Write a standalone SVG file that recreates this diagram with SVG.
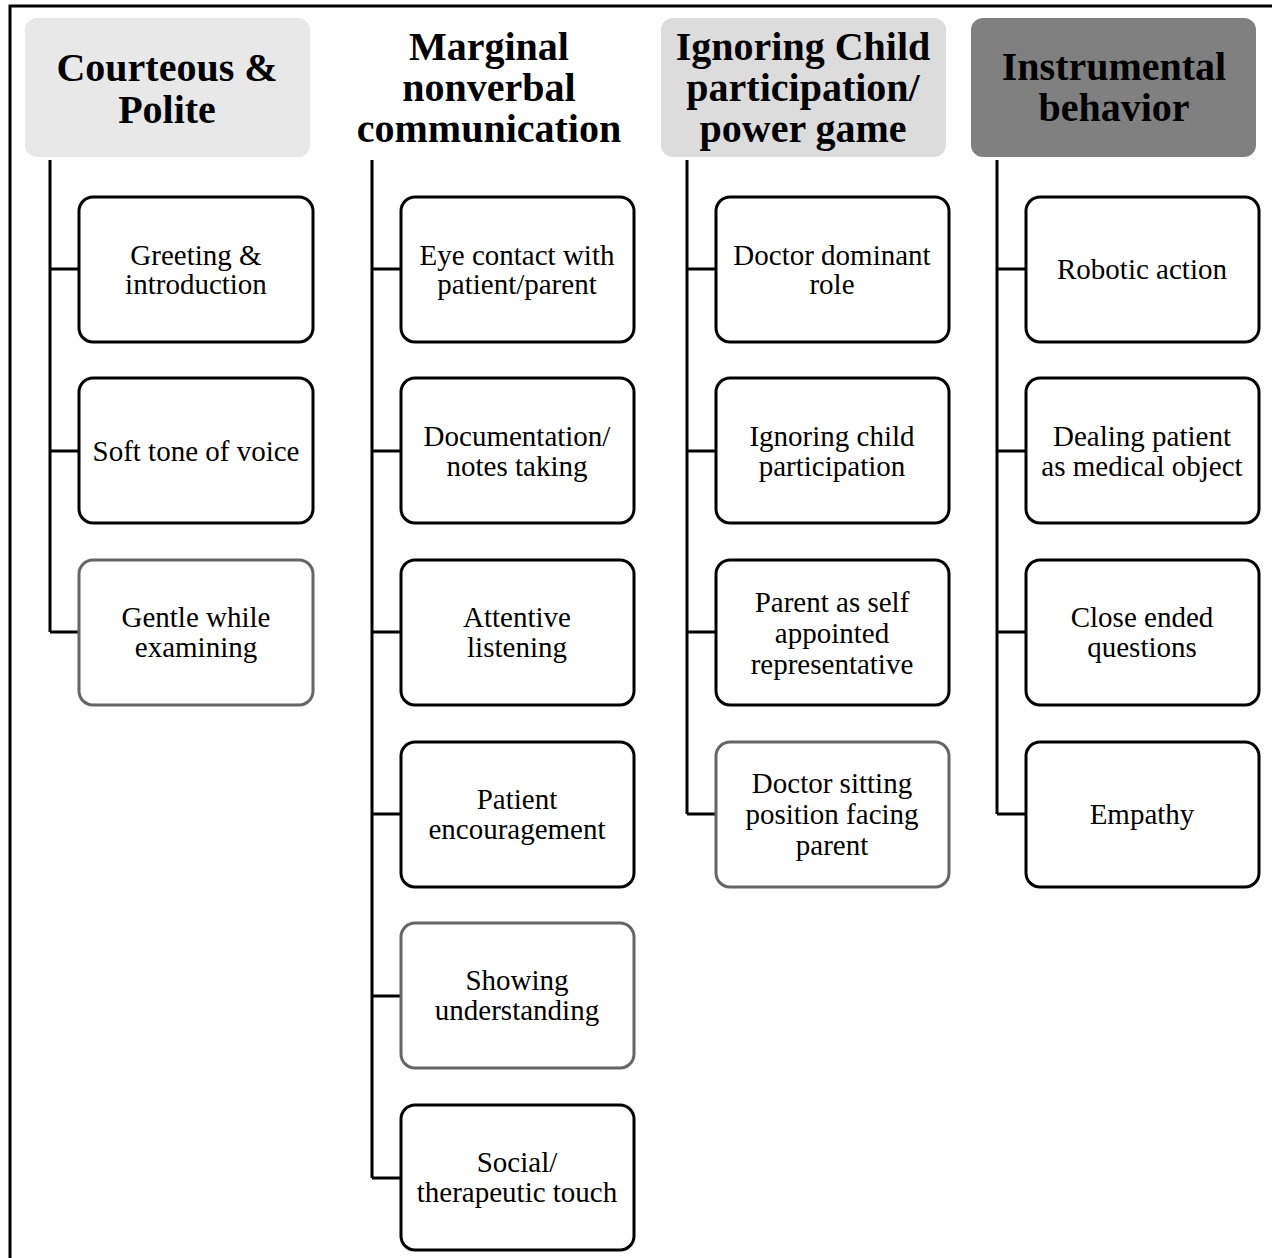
<svg xmlns="http://www.w3.org/2000/svg" width="1272" height="1258" viewBox="0 0 1272 1258">
<style>
.hd{font-family:"Liberation Serif","Times New Roman",serif;font-weight:bold;font-size:40px;text-anchor:middle;fill:#000}
.tx{font-family:"Liberation Serif","Times New Roman",serif;font-size:29px;text-anchor:middle;fill:#000}
.bx{fill:#fff;stroke:#000;stroke-width:3}
.bg{fill:#fff;stroke:#666;stroke-width:3}
.ln{fill:none;stroke:#000;stroke-width:3}
</style>
<rect x="0" y="0" width="1272" height="1258" fill="#fff"/>
<path d="M10,1258 V6 H1272" fill="none" stroke="#000" stroke-width="3"/>
<g id="connectors">
<path class="ln" d="M50,160 V632 M50,269 H79 M50,451 H79 M50,632 H79"/>
<path class="ln" d="M372,160 V1178 M372,269 H401 M372,451 H401 M372,632 H401 M372,814 H401 M372,996 H401 M372,1178 H401"/>
<path class="ln" d="M687,160 V814 M687,269 H716 M687,451 H716 M687,632 H716 M687,814 H716"/>
<path class="ln" d="M997,160 V814 M997,269 H1026 M997,451 H1026 M997,632 H1026 M997,814 H1026"/>
</g>
<g id="h1"><rect x="25" y="18" width="285" height="139" rx="12" fill="#e8e8e8"/><text class="hd" x="167" y="81">Courteous &amp;</text><text class="hd" x="167" y="123">Polite</text></g>
<g id="h2"><text class="hd" x="489" y="60">Marginal</text><text class="hd" x="489" y="101">nonverbal</text><text class="hd" x="489" y="142">communication</text></g>
<g id="h3"><rect x="661" y="18" width="285" height="139" rx="12" fill="#dcdcdc"/><text class="hd" x="803" y="60">Ignoring Child</text><text class="hd" x="803" y="101">participation/</text><text class="hd" x="803" y="142">power game</text></g>
<g id="h4"><rect x="971" y="18" width="285" height="139" rx="12" fill="#808080"/><text class="hd" x="1114" y="80">Instrumental</text><text class="hd" x="1114" y="121">behavior</text></g>

<g id="n1a"><rect class="bx" x="79" y="197" width="234" height="145" rx="14"/><text class="tx" x="196" y="265">Greeting &amp;</text><text class="tx" x="196" y="294">introduction</text></g>
<g id="n1b"><rect class="bx" x="79" y="378" width="234" height="145" rx="14"/><text class="tx" x="196" y="461">Soft tone of voice</text></g>
<g id="n1c"><rect class="bg" x="79" y="560" width="234" height="145" rx="14"/><text class="tx" x="196" y="627">Gentle while</text><text class="tx" x="196" y="657">examining</text></g>

<g id="n2a"><rect class="bx" x="401" y="197" width="233" height="145" rx="14"/><text class="tx" x="517" y="265">Eye contact with</text><text class="tx" x="517" y="294">patient/parent</text></g>
<g id="n2b"><rect class="bx" x="401" y="378" width="233" height="145" rx="14"/><text class="tx" x="517" y="446">Documentation/</text><text class="tx" x="517" y="476">notes taking</text></g>
<g id="n2c"><rect class="bx" x="401" y="560" width="233" height="145" rx="14"/><text class="tx" x="517" y="627">Attentive</text><text class="tx" x="517" y="657">listening</text></g>
<g id="n2d"><rect class="bx" x="401" y="742" width="233" height="145" rx="14"/><text class="tx" x="517" y="809">Patient</text><text class="tx" x="517" y="839">encouragement</text></g>
<g id="n2e"><rect class="bg" x="401" y="923" width="233" height="145" rx="14"/><text class="tx" x="517" y="990">Showing</text><text class="tx" x="517" y="1020">understanding</text></g>
<g id="n2f"><rect class="bx" x="401" y="1105" width="233" height="145" rx="14"/><text class="tx" x="517" y="1172">Social/</text><text class="tx" x="517" y="1202">therapeutic touch</text></g>

<g id="n3a"><rect class="bx" x="716" y="197" width="233" height="145" rx="14"/><text class="tx" x="832" y="265">Doctor dominant</text><text class="tx" x="832" y="294">role</text></g>
<g id="n3b"><rect class="bx" x="716" y="378" width="233" height="145" rx="14"/><text class="tx" x="832" y="446">Ignoring child</text><text class="tx" x="832" y="476">participation</text></g>
<g id="n3c"><rect class="bx" x="716" y="560" width="233" height="145" rx="14"/><text class="tx" x="832" y="612">Parent as self</text><text class="tx" x="832" y="643">appointed</text><text class="tx" x="832" y="674">representative</text></g>
<g id="n3d"><rect class="bg" x="716" y="742" width="233" height="145" rx="14"/><text class="tx" x="832" y="793">Doctor sitting</text><text class="tx" x="832" y="824">position facing</text><text class="tx" x="832" y="855">parent</text></g>

<g id="n4a"><rect class="bx" x="1026" y="197" width="233" height="145" rx="14"/><text class="tx" x="1142" y="279">Robotic action</text></g>
<g id="n4b"><rect class="bx" x="1026" y="378" width="233" height="145" rx="14"/><text class="tx" x="1142" y="446">Dealing patient</text><text class="tx" x="1142" y="476">as medical object</text></g>
<g id="n4c"><rect class="bx" x="1026" y="560" width="233" height="145" rx="14"/><text class="tx" x="1142" y="627">Close ended</text><text class="tx" x="1142" y="657">questions</text></g>
<g id="n4d"><rect class="bx" x="1026" y="742" width="233" height="145" rx="14"/><text class="tx" x="1142" y="824">Empathy</text></g>
</svg>
